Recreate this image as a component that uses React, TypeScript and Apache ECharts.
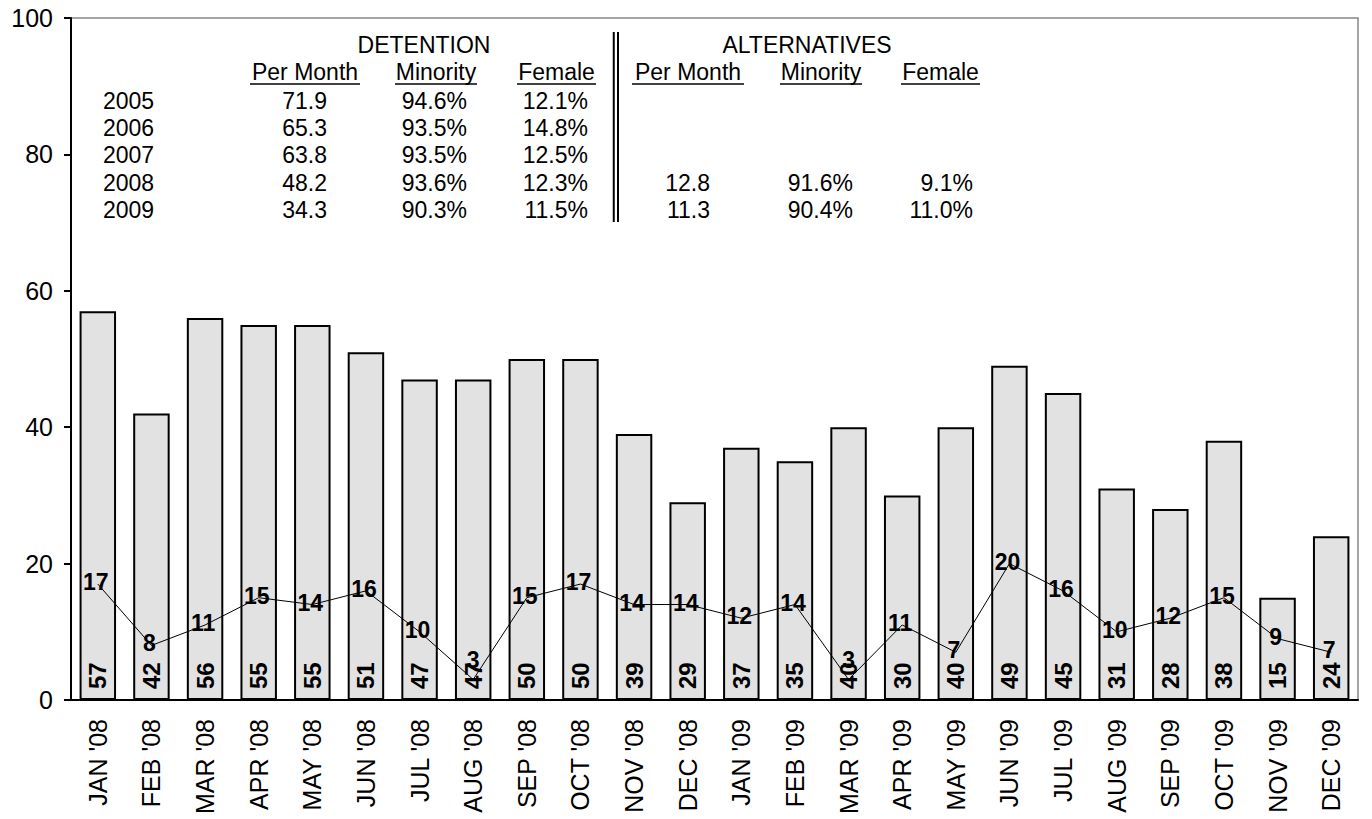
import React, { useEffect, useRef } from "react";
import * as echarts from "echarts";

const categories = ["JAN '08","FEB '08","MAR '08","APR '08","MAY '08","JUN '08","JUL '08","AUG '08","SEP '08","OCT '08","NOV '08","DEC '08","JAN '09","FEB '09","MAR '09","APR '09","MAY '09","JUN '09","JUL '09","AUG '09","SEP '09","OCT '09","NOV '09","DEC '09"];
const detentionMonthly = [57,42,56,55,55,51,47,47,50,50,39,29,37,35,40,30,40,49,45,31,28,38,15,24];
const alternativesMonthly = [17,8,11,15,14,16,10,3,15,17,14,14,12,14,3,11,7,20,16,10,12,15,9,7];
const yTicks = [0, 20, 40, 60, 80, 100];

const tableYears = ["2005","2006","2007","2008","2009"];
const detPerMonth = ["71.9","65.3","63.8","48.2","34.3"];
const detMinority = ["94.6%","93.5%","93.5%","93.6%","90.3%"];
const detFemale = ["12.1%","14.8%","12.5%","12.3%","11.5%"];
const altPerMonth = ["","","","12.8","11.3"];
const altMinority = ["","","","91.6%","90.4%"];
const altFemale = ["","","","9.1%","11.0%"];
const headers = ["Per Month","Minority","Female"];

const FONT = "'Liberation Sans', Arial, sans-serif";

export default function App() {
  const ref = useRef<HTMLDivElement>(null);
  useEffect(() => {
    const chart = echarts.init(ref.current!, null, { renderer: "svg" });
    const fs = 23;
    const txt = (x: number, y: number, s: string, align: string = "left") => ({
      type: "text", x, y,
      style: { text: s, font: `${fs}px ${FONT}`, fill: "#000", align, verticalAlign: "middle" },
    });
    const graphics: any[] = [];
    graphics.push(txt(424, 45, "DETENTION", "center"));
    graphics.push(txt(807, 45, "ALTERNATIVES", "center"));
    const headerX = [
      [250, 360], [395, 477], [517, 596],
      [632, 744], [780, 862], [901, 980],
    ];
    headerX.forEach(([a, b], i) => {
      graphics.push(txt((a + b) / 2, 72, headers[i % 3], "center"));
      graphics.push({ type: "line", shape: { x1: a, y1: 84, x2: b, y2: 84 }, style: { stroke: "#000", lineWidth: 1.5 } });
    });
    const rowY = [101, 128, 155, 183, 210];
    const cols: [string[], number][] = [
      [detPerMonth, 327], [detMinority, 467], [detFemale, 588],
      [altPerMonth, 710], [altMinority, 853], [altFemale, 973],
    ];
    tableYears.forEach((yr, r) => {
      graphics.push(txt(103, rowY[r], yr, "left"));
      cols.forEach(([arr, x]) => {
        if (arr[r]) graphics.push(txt(x, rowY[r], arr[r], "right"));
      });
    });
    graphics.push({ type: "line", shape: { x1: 613.75, y1: 32, x2: 613.75, y2: 222 }, style: { stroke: "#000", lineWidth: 2 } });
    graphics.push({ type: "line", shape: { x1: 618, y1: 32, x2: 618, y2: 222 }, style: { stroke: "#000", lineWidth: 2 } });

    const lineData = alternativesMonthly.map((v) =>
      v < 5 ? { value: v, label: { offset: [0, -20] } } : { value: v, label: { offset: [-2, -2] } }
    );

    chart.setOption({
      animation: false,
      backgroundColor: "#fff",
      textStyle: { fontFamily: FONT },
      grid: { left: 71, top: 18, right: 14, bottom: 119, show: true, borderColor: "#888", borderWidth: 1.5 },
      xAxis: {
        type: "category",
        data: categories,
        axisLine: { lineStyle: { color: "#000", width: 2 } },
        axisTick: { show: false },
        axisLabel: { rotate: 90, fontSize: 25, color: "#000", margin: 19, fontFamily: FONT },
      },
      yAxis: {
        type: "value",
        min: yTicks[0],
        max: yTicks[yTicks.length - 1],
        interval: 20,
        splitLine: { show: false },
        axisLine: { show: true, lineStyle: { color: "#000", width: 2 } },
        axisTick: { show: true, length: 7, lineStyle: { color: "#000", width: 2 } },
        axisLabel: { fontSize: 25, color: "#000", margin: 18, fontFamily: FONT },
      },
      series: [
        {
          type: "bar",
          data: detentionMonthly,
          barWidth: "68%",
          itemStyle: { color: "#e2e2e2", borderColor: "#000", borderWidth: 2 },
          label: {
            show: true, position: "insideBottom", rotate: 90, align: "left", verticalAlign: "middle",
            distance: 11, fontSize: 24, fontWeight: "bold", color: "#000", fontFamily: FONT,
          },
          z: 2,
        },
        {
          type: "line",
          data: lineData,
          symbol: "circle",
          symbolSize: 0.1,
          showSymbol: true,
          lineStyle: { color: "#000", width: 1 },
          itemStyle: { color: "#000" },
          label: {
            show: true, position: "inside", fontSize: 23, fontWeight: "bold", color: "#000", fontFamily: FONT,
          },
          z: 3,
        },
      ],
      graphic: graphics,
    });
    return () => chart.dispose();
  }, []);
  return <div ref={ref} style={{ position: "absolute", left: 0, top: 0, width: 1372, height: 819 }} />;
}
